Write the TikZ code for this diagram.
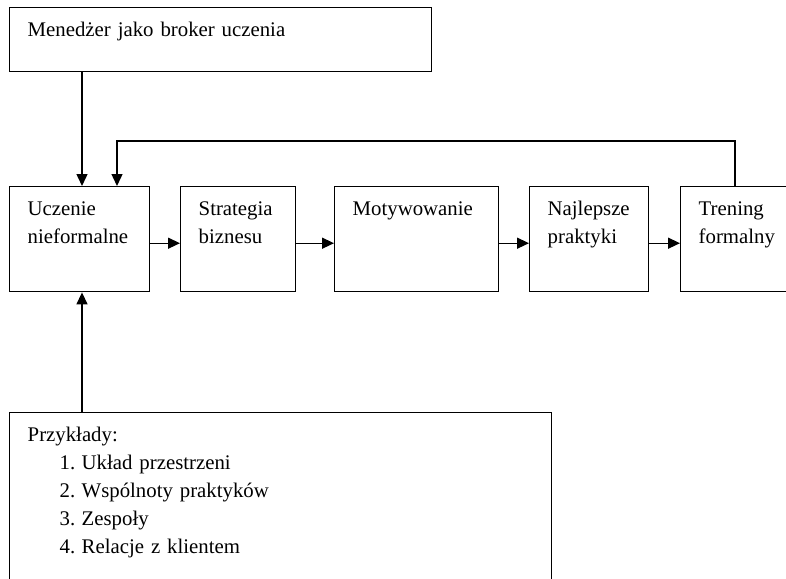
\documentclass[tikz,border=0pt]{standalone}
\usepackage{fontspec}
\setmainfont{Liberation Serif}
\usetikzlibrary{arrows.meta, positioning, calc}

\begin{document}
\begin{tikzpicture}[x=0.5pt, y=-0.5pt,
    line width=0.7pt,
    font=\fontsize{10.4}{14}\selectfont,
    box/.style 2 args={draw, anchor=north west, align=left,
        inner xsep=9pt, inner ysep=0pt,
        text width=#1, text height=14.5pt, text depth=#2},
    arr/.style={-{Triangle[length=6pt,width=5.5pt]}}
]
    \useasboundingbox (0,0) rectangle (786,578);
    \clip (0,0) rectangle (786,578);

    % boxes
    \node[box={193pt}{17.5pt}] (mgr) at (9,7) {Menedżer jako broker uczenia};
    \node[box={52pt}{38pt}] (ucz) at (9,186) {Uczenie\\nieformalne};
    \node[box={39.5pt}{38pt}] (strat) at (180,186) {Strategia\\biznesu};
    \node[box={64pt}{38pt}] (motyw) at (334,186) {Motywowanie};
    \node[box={41.5pt}{38pt}] (najl) at (529,186) {Najlepsze\\praktyki};
    \node[box={42pt}{38pt}] (tren) at (680,186) {Trening\\formalny};
    \node[box={253pt}{79.5pt}] (ex) at (9,412) {Przykłady:\\
        \hspace*{16pt}\makebox[11pt][l]{1.}Układ przestrzeni\\
        \hspace*{16pt}\makebox[11pt][l]{2.}Wspólnoty praktyków\\
        \hspace*{16pt}\makebox[11pt][l]{3.}Zespoły\\
        \hspace*{16pt}\makebox[11pt][l]{4.}Relacje z klientem};

    % connectors
    \draw[arr] ($(mgr.south west)+(73,0)$) -- ($(ucz.north west)+(73,0)$);
    \draw[arr] ($(ex.north west)+(73,0)$) -- ($(ucz.south west)+(73,0)$);
    \foreach \a/\b in {ucz/strat, strat/motyw, motyw/najl, najl/tren}
        \draw[arr] ([yshift=-2pt]\a.east) -- ([yshift=-2pt]\b.west);
    \draw[arr] ($(tren.north west)+(55,0)$) |- ($(ucz.north west)+(108,-45)$)
        -- ($(ucz.north west)+(108,0)$);
\end{tikzpicture}
\end{document}
